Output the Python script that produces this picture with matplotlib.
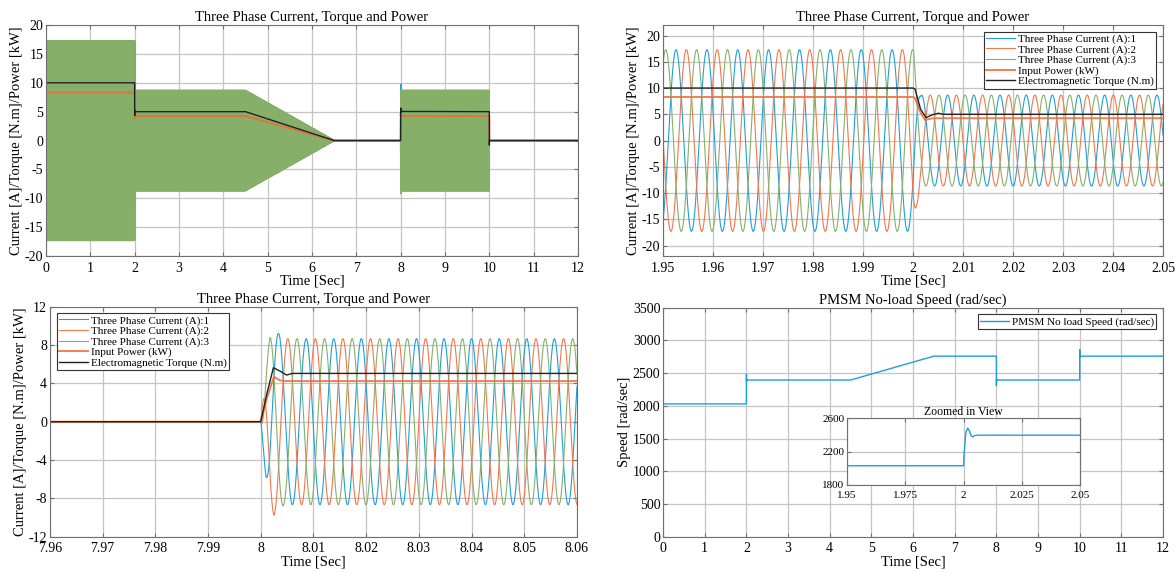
"""
PMSM drive simulation: three phase currents, torque, input power and speed.
Four panels: full run, zoom at t=2 s, zoom at t=8 s, speed with inset.
"""
import numpy as np
import matplotlib
matplotlib.use("Agg")
import matplotlib.pyplot as plt
from matplotlib.ticker import FuncFormatter

# ---------------------------------------------------------------------------
# Data
# ---------------------------------------------------------------------------
# rotor speed (rad/s), knots incl. the step transients
SPEED_T = [0.0, 0.0005, 0.003, 2.0, 2.0003, 2.001, 2.0018, 2.0026, 2.0033,
           2.0039, 2.0047, 2.0055, 4.5, 6.5, 8.0, 8.0008, 8.0018, 8.003,
           8.004, 8.0055, 10.0, 10.0008, 10.0018, 10.003, 10.004, 10.0055, 12.0]
SPEED_V = [0, 2160, 2030, 2030, 2200, 2430, 2480, 2440, 2385,
           2375, 2390, 2395, 2395, 2760, 2760, 2500, 2310, 2380,
           2410, 2395, 2395, 2700, 2860, 2790, 2745, 2760, 2760]

# phase current peak amplitude (A)
AMP_T = [0.0, 2.0001, 2.0007, 2.0015, 4.5, 6.5, 8.0, 8.001, 8.0018,
         8.0025, 8.0034, 8.0045, 10.0, 10.0008, 12.0]
AMP_V = [17.3, 17.3, 12.6, 8.66, 8.66, 0.0, 0.0, 6.0, 9.0,
         9.75, 9.2, 8.66, 8.66, 0.0, 0.0]

# electrical frequency per rad/s of speed, and times where phase 1 peaks
HZ_PER_RAD = 0.0798
PEAK_T_FULL = 0.0
PEAK_T_2S = 1.9526
PEAK_T_8S = 8.0034

# electromagnetic torque (N.m)
TORQUE_T = [0.0, 2.0, 2.0004, 2.0015, 2.0026, 2.0038, 2.0051, 2.006, 4.5,
            6.5, 8.0, 8.0012, 8.0024, 8.0036, 8.0049, 8.006, 10.0, 10.0005,
            10.002, 12.0]
TORQUE_V = [10.0, 10.0, 9.8, 6.0, 4.35, 4.9, 5.2, 5.0, 5.0,
            0.0, 0.0, 3.0, 5.63, 5.3, 4.87, 5.04, 5.0, -0.8,
            0.0, 0.0]

# input power (kW)
POWER_T = [0.0, 2.0, 2.0004, 2.0014, 2.0024, 2.0036, 2.005, 4.5, 6.5,
           8.0, 8.0012, 8.0025, 8.0037, 8.005, 10.0, 10.001, 12.0]
POWER_V = [8.3, 8.3, 8.1, 5.5, 3.9, 4.2, 4.25, 4.25, 0.0,
           0.0, 2.5, 4.7, 4.3, 4.24, 4.24, 0.0, 0.0]

LABELS = ["Three Phase Current (A):1", "Three Phase Current (A):2",
          "Three Phase Current (A):3", "Input Power (kW)",
          "Electromagnetic Torque (N.m)"]

# ---------------------------------------------------------------------------
# Style
# ---------------------------------------------------------------------------
BLUE = "#1E9FDB"
ORANGE = "#F3774A"
GREEN = "#86B06A"
POWER = "#EE6A38"
BLACK = "#222222"
GRID = "#C4C4C4"
FRAME = "#707070"

plt.rcParams.update({
    "font.family": ["Liberation Serif", "DejaVu Serif"],
    "font.size": 10,
    "axes.titlesize": 10.5,
    "axes.labelsize": 10.5,
    "axes.edgecolor": FRAME,
    "axes.linewidth": 0.8,
})


def currents(t, t_peak):
    f = HZ_PER_RAD * np.interp(t, SPEED_T, SPEED_V)
    dt = np.diff(t, prepend=t[0])
    theta = 2 * np.pi * np.cumsum(f * dt)
    theta = theta - np.interp(t_peak, t, theta) + np.pi / 2
    amp = np.interp(t, AMP_T, AMP_V)
    return [amp * np.sin(theta - k * 2 * np.pi / 3) for k in range(3)]


fmt = FuncFormatter(lambda v, p: f"{round(v, 4):g}")


def style(ax, xlim, ylim, xticks, yticks):
    ax.set_xlim(*xlim)
    ax.set_ylim(*ylim)
    ax.set_xticks(xticks)
    ax.set_yticks(yticks)
    ax.xaxis.set_major_formatter(fmt)
    ax.yaxis.set_major_formatter(fmt)
    ax.grid(True, color=GRID, linewidth=0.9)
    ax.set_axisbelow(True)
    ax.tick_params(direction="in", top=True, right=True, length=3,
                   color=FRAME, pad=2)
    ax.tick_params(axis="x", pad=4)


def current_panel(ax, t, t_peak, lw):
    i1, i2, i3 = currents(t, t_peak)
    ax.plot(t, i1, color=BLUE, lw=lw, label=LABELS[0])
    ax.plot(t, i2, color=ORANGE, lw=lw, label=LABELS[1])
    ax.plot(t, i3, color=GREEN, lw=lw, label=LABELS[2])
    ax.plot(POWER_T, POWER_V, color=POWER, lw=1.4, alpha=0.85, label=LABELS[3])
    ax.plot(TORQUE_T, TORQUE_V, color=BLACK, lw=1.0, label=LABELS[4])
    ax.set_title("Three Phase Current, Torque and Power", pad=3)
    ax.set_xlabel("Time [Sec]", labelpad=0)
    ax.set_ylabel("Current [A]/Torque [N.m]/Power [kW]", labelpad=1)


def legend(ax, loc):
    leg = ax.legend(loc=loc, fontsize=8, fancybox=False, framealpha=1,
                    edgecolor="#333333", borderpad=0.2, labelspacing=0.05,
                    handlelength=2.6, handletextpad=0.3, borderaxespad=0.6)
    leg.get_frame().set_linewidth(0.8)


fig = plt.figure(figsize=(11.75, 5.72), dpi=100)

# -- full run ---------------------------------------------------------------
ax1 = fig.add_axes([0.0391, 0.5524, 0.4528, 0.4038])
t_full = np.linspace(0, 12, 240001)
current_panel(ax1, t_full, PEAK_T_FULL, 1.0)
style(ax1, (0, 12), (-20, 20), range(0, 13), range(-20, 21, 5))

# -- zoom at the 2 s load step ---------------------------------------------
ax2 = fig.add_axes([0.5643, 0.5524, 0.4255, 0.4038])
t_2 = np.linspace(1.95, 2.05, 20001)
current_panel(ax2, t_2, PEAK_T_2S, 0.8)
style(ax2, (1.95, 2.05), (-22, 22), np.arange(1.95, 2.051, 0.01),
      range(-20, 21, 5))
legend(ax2, "upper right")

# -- zoom at the 8 s restart ------------------------------------------------
ax3 = fig.add_axes([0.0425, 0.0617, 0.4485, 0.4021])
t_8 = np.linspace(7.96, 8.06, 20001)
current_panel(ax3, t_8, PEAK_T_8S, 0.8)
style(ax3, (7.96, 8.06), (-12, 12), np.arange(7.96, 8.061, 0.01),
      range(-12, 13, 4))
legend(ax3, "upper left")

# -- speed ------------------------------------------------------------------
ax4 = fig.add_axes([0.5643, 0.0617, 0.4255, 0.4003])
ax4.plot(SPEED_T, SPEED_V, color=BLUE, lw=1.0,
         label="PMSM No load Speed (rad/sec)")
style(ax4, (0, 12), (0, 3500), range(0, 13), range(0, 3501, 500))
ax4.set_title("PMSM No-load Speed (rad/sec)", pad=3)
ax4.set_xlabel("Time [Sec]", labelpad=0)
ax4.set_ylabel("Speed [rad/sec]", labelpad=1)
legend(ax4, "upper right")

ax5 = fig.add_axes([0.7209, 0.1521, 0.1983, 0.1171])
ax5.plot(SPEED_T, SPEED_V, color=BLUE, lw=1.0)
style(ax5, (1.95, 2.05), (1800, 2600), [1.95, 1.975, 2.0, 2.025, 2.05],
      [1800, 2200, 2600])
ax5.tick_params(labelsize=8)
ax5.set_title("Zoomed in View", fontsize=8.5, pad=2)

fig.savefig("out.png", dpi=100)
plt.close(fig)
